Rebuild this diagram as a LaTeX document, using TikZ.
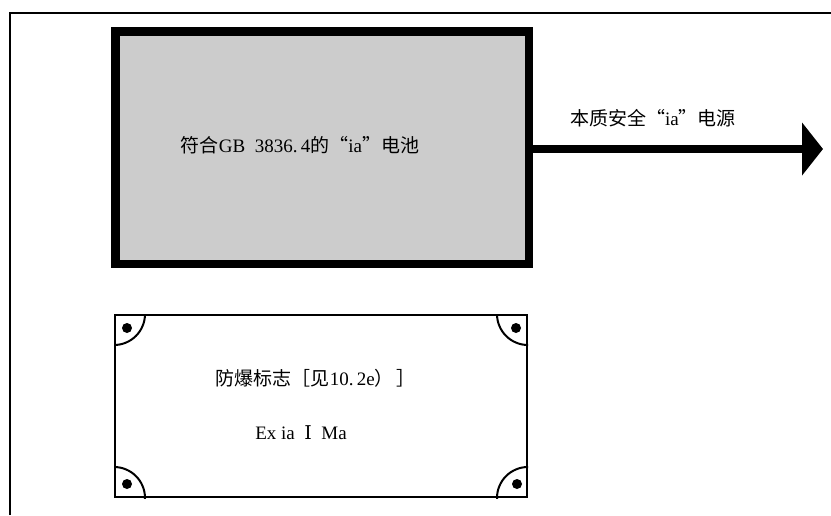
\documentclass[tikz,border=0pt]{standalone}
\usepackage{fontspec}
\setmainfont{Liberation Serif}
\newfontfamily\cjk{Noto Sans CJK SC}
\newfontfamily\numeral{DejaVu Serif}
\usetikzlibrary{arrows.meta,calc}
\definecolor{cellGray}{HTML}{CCCCCC}
\tikzset{
  cell/.style={draw=black,fill=cellGray,line width=8.5pt,
    minimum width=413.5pt,minimum height=232.5pt,inner sep=0pt},
  plate/.style={draw=black,line width=2pt,
    minimum width=412pt,minimum height=182pt,inner sep=0pt},
  lbl/.style={font=\fontsize{19}{22}\selectfont,inner sep=0pt},
  feed/.style={-{Triangle[length=21pt,width=52pt]},line width=8pt},
  frameline/.style={line width=2pt}
}

\begin{document}
\begin{tikzpicture}[x=1pt,y=-1pt]
  \useasboundingbox (0,0) rectangle (831,515);
  % outer frame, cut off at right and bottom
  \draw[frameline] (10,515) -- (10,13) -- (831,13);

  \node[cell] (battery) at (322,147.5) {};
  \node[lbl] (batterytext) at (300,145) {{\cjk 符合}GB\ \ 3836.\,4{\cjk 的“}ia{\cjk ”电池}};
  \coordinate (tip) at (823,149);
  \draw[feed] (battery.east |- tip) -- (tip);
  \node[lbl] (feedtext) at (653,118) {{\cjk 本质安全“}ia{\cjk ”电源}};

  \node[plate] (mark) at (321,406) {};
  \begin{scope}
    \clip (mark.south west) rectangle (mark.north east);
    \foreach \c in {north west,north east,south west,south east}
      \draw[frameline] (mark.\c) circle (31pt);
  \end{scope}
  \foreach \c/\dx/\dy in {north west/13/14, north east/-12/14, south west/13/-14, south east/-11/-14}
    \fill ($(mark.\c)+(\dx,\dy)$) circle (5pt);
  \node[lbl] (marktitle) at (316,378) {{\cjk 防爆标志［见}10.\,2e{\cjk ）\,］}};
  \node[lbl] (markcode) at (301,433) {Ex ia\ \ {\numeral Ⅰ}\ \ Ma};
\end{tikzpicture}
\end{document}
